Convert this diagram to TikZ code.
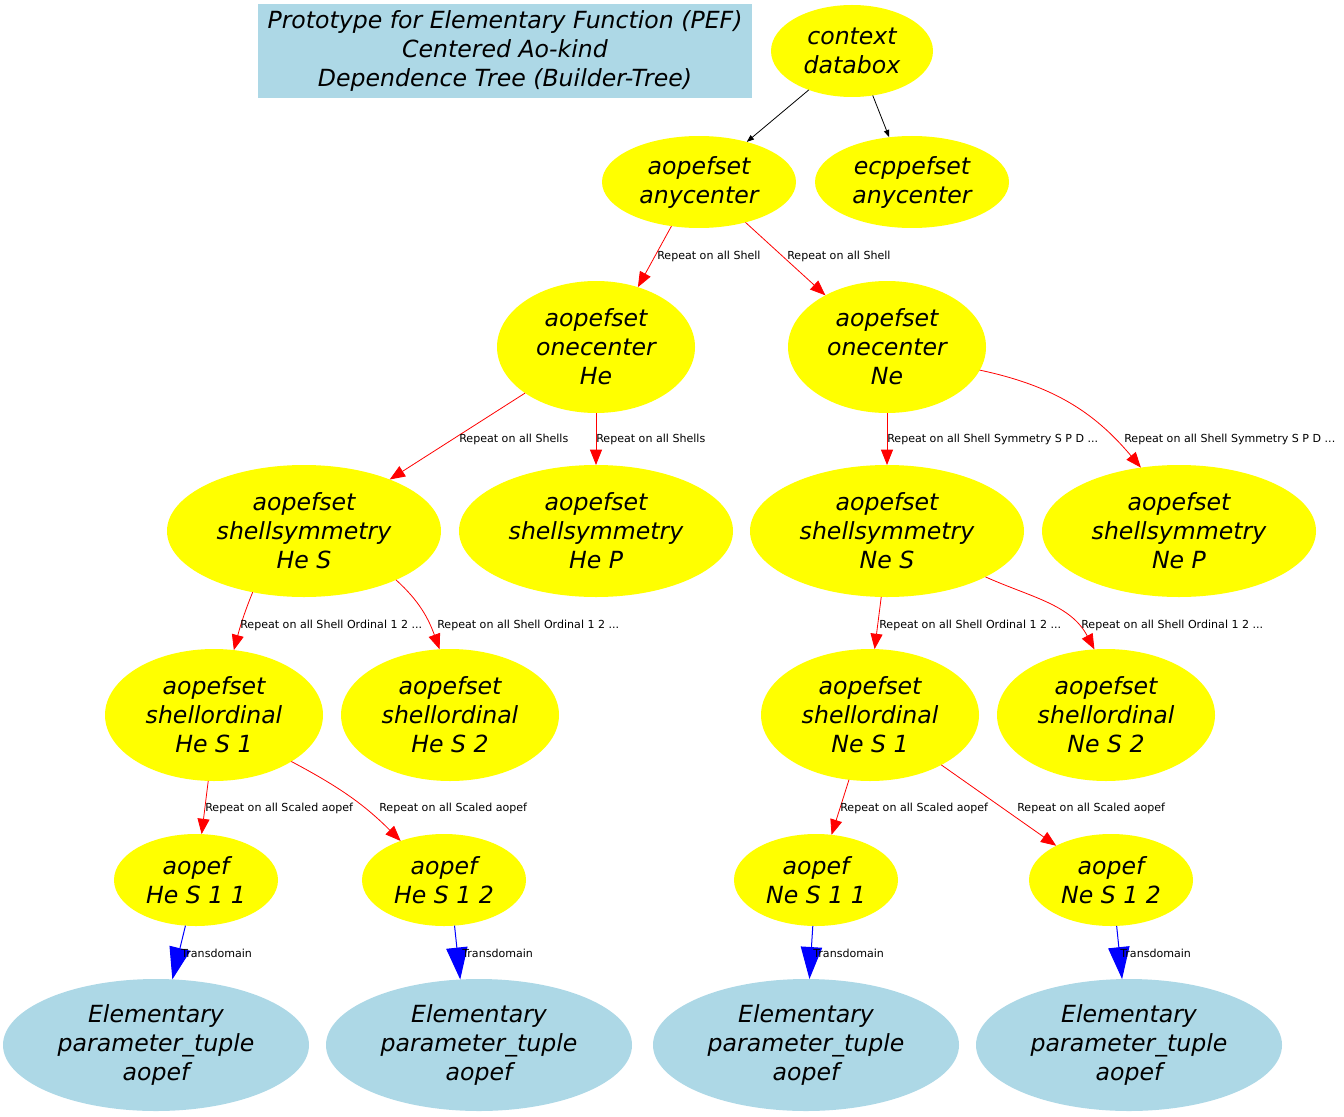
\documentclass[tikz,border=0pt]{standalone}
\usepackage{fontspec}
\setmainfont{DejaVu Sans}
\usetikzlibrary{shapes.geometric,arrows.meta}
\definecolor{nodeyellow}{HTML}{FFFF00}
\definecolor{paleblue}{HTML}{ADD8E6}
\begin{document}
\begin{tikzpicture}[x=0.75pt,y=-0.75pt,
  lbl/.style={font=\itshape\fontsize{17.7}{21.75}\selectfont, align=center, text=black, inner sep=0pt, outer sep=0pt},
  yel/.style 2 args={lbl, ellipse, fill=nodeyellow, minimum width=#1*0.75pt, minimum height=#2*0.75pt},
  blu/.style 2 args={lbl, ellipse, fill=paleblue, minimum width=#1*0.75pt, minimum height=#2*0.75pt},
  elbl/.style={font=\fontsize{8.3}{10}\selectfont, anchor=west, inner sep=0pt},
  blk/.style={draw=black, line width=0.6pt, -{Triangle[length=5.5pt,width=4pt]}},
  rd/.style={draw=red, line width=0.6pt, -{Triangle[length=11.5pt,width=9pt]}},
  bl/.style={draw=blue, line width=0.75pt, -{Triangle[length=24pt,width=16pt]}}
]
\useasboundingbox (0,0) rectangle (1344,1116);

% title
\node[lbl, rectangle, fill=paleblue, minimum width=494*0.75pt, minimum height=94*0.75pt] (title) at (505,51)
  {Prototype for Elementary Function (PEF)\\Centered Ao-kind\\Dependence Tree (Builder-Tree)};

% tree nodes
\node[yel={162}{92}] (ctx) at (852,51) {context\\databox};
\node[yel={194}{92}] (anyc) at (699,182) {aopefset\\anycenter};
\node[yel={194}{92}] (ecp) at (912,182) {ecppefset\\anycenter};
\node[yel={198}{132}] (oneHe) at (596,347) {aopefset\\onecenter\\He};
\node[yel={198}{132}] (oneNe) at (887,347) {aopefset\\onecenter\\Ne};
\node[yel={274}{132}] (symHeS) at (304,531) {aopefset\\shellsymmetry\\He S};
\node[yel={274}{132}] (symHeP) at (596,531) {aopefset\\shellsymmetry\\He P};
\node[yel={274}{132}] (symNeS) at (887,531) {aopefset\\shellsymmetry\\Ne S};
\node[yel={274}{132}] (symNeP) at (1179,531) {aopefset\\shellsymmetry\\Ne P};
\node[yel={218}{132}] (ordHeS1) at (214,715) {aopefset\\shellordinal\\He S 1};
\node[yel={218}{132}] (ordHeS2) at (450,715) {aopefset\\shellordinal\\He S 2};
\node[yel={218}{132}] (ordNeS1) at (870,715) {aopefset\\shellordinal\\Ne S 1};
\node[yel={218}{132}] (ordNeS2) at (1106,715) {aopefset\\shellordinal\\Ne S 2};
\node[yel={164}{92}] (aoHe11) at (196,880) {aopef\\He S 1 1};
\node[yel={164}{92}] (aoHe12) at (444,880) {aopef\\He S 1 2};
\node[yel={164}{92}] (aoNe11) at (816,880) {aopef\\Ne S 1 1};
\node[yel={164}{92}] (aoNe12) at (1111,880) {aopef\\Ne S 1 2};
\node[blu={306}{132}] (elem1) at (156,1045) {Elementary\\parameter\_tuple\\aopef};
\node[blu={306}{132}] (elem2) at (479,1045) {Elementary\\parameter\_tuple\\aopef};
\node[blu={306}{132}] (elem3) at (806,1045) {Elementary\\parameter\_tuple\\aopef};
\node[blu={306}{132}] (elem4) at (1129,1045) {Elementary\\parameter\_tuple\\aopef};

% connectors
\draw[blk] (ctx.-138) -- (anyc.40);
\draw[blk] (ctx.-65) -- (ecp.117);
\draw[rd] (anyc.-122) -- (oneHe.55);
\draw[rd] (anyc.-41) -- (oneNe.140);
\draw[rd] (oneHe.-147) -- (symHeS.31);
\draw[rd] (oneHe.-90) -- (symHeP.90);
\draw[rd] (oneNe.-90) -- (symNeS.90);
\draw[rd] (oneNe.-14) to[out=-12,in=130] (symNeP.121);
\draw[rd] (symHeS.-130) to[out=-112,in=75] (ordHeS1.73);
\draw[rd] (symHeS.-28) to[out=-42,in=110] (ordHeS2.99);
\draw[rd] (symNeS.-95) -- (ordNeS1.86);
\draw[rd] (symNeS.-25) to[out=-24,in=118] (ordNeS2.100);
\draw[rd] (ordHeS1.-95) -- (aoHe11.83);
\draw[rd] (ordHeS1.-31) to[out=-28,in=135] (aoHe12.138);
\draw[rd] (ordNeS1.-108) -- (aoNe11.71);
\draw[rd] (ordNeS1.-35) -- (aoNe12.148);
\draw[bl] (aoHe11.-103) -- (elem1.76);
\draw[bl] (aoHe12.-77) -- (elem2.106);
\draw[bl] (aoNe11.-94) -- (elem3.87);
\draw[bl] (aoNe12.-83) -- (elem4.96);

% connector labels
\node[elbl] (l1) at (657,256) {Repeat on all Shell};
\node[elbl] (l2) at (787,256) {Repeat on all Shell};
\node[elbl] (l3) at (459,439) {Repeat on all Shells};
\node[elbl] (l4) at (596,439) {Repeat on all Shells};
\node[elbl] (l5) at (887,439) {Repeat on all Shell Symmetry S P D ...};
\node[elbl] (l6) at (1124,439) {Repeat on all Shell Symmetry S P D ...};
\node[elbl] (l7) at (240,625) {Repeat on all Shell Ordinal 1 2 ...};
\node[elbl] (l8) at (437,625) {Repeat on all Shell Ordinal 1 2 ...};
\node[elbl] (l9) at (879,625) {Repeat on all Shell Ordinal 1 2 ...};
\node[elbl] (l10) at (1081,625) {Repeat on all Shell Ordinal 1 2 ...};
\node[elbl] (l11) at (205,808) {Repeat on all Scaled aopef};
\node[elbl] (l12) at (379,808) {Repeat on all Scaled aopef};
\node[elbl] (l13) at (840,808) {Repeat on all Scaled aopef};
\node[elbl] (l14) at (1017,808) {Repeat on all Scaled aopef};
\node[elbl] (l15) at (181,953) {Transdomain};
\node[elbl] (l16) at (462,953) {Transdomain};
\node[elbl] (l17) at (813,953) {Transdomain};
\node[elbl] (l18) at (1120,953) {Transdomain};
\end{tikzpicture}
\end{document}
